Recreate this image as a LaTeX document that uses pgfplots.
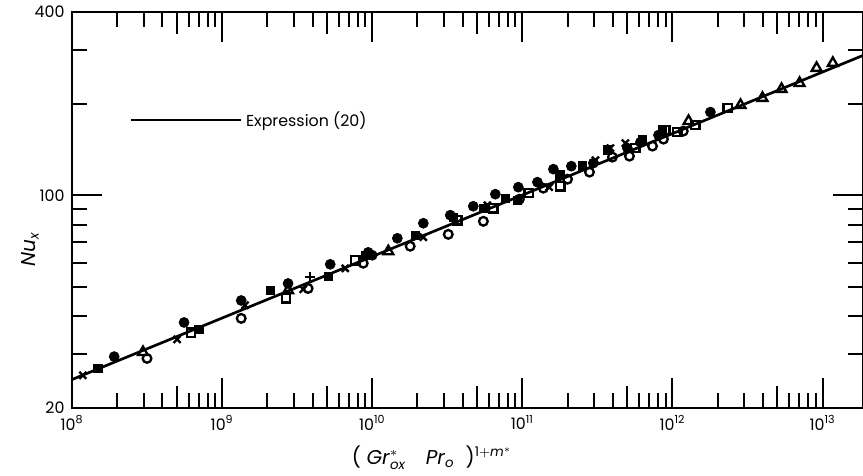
\documentclass[border=0pt]{standalone}
\usepackage{amsmath}
\usepackage{fontspec}
\setmainfont{Poppins}
\usepackage{pgfplots}
\pgfplotsset{compat=1.18}

\begin{document}
\begin{tikzpicture}[font=\fontsize{9.5}{11}\selectfont]
\begin{axis}[
    xmode=log, ymode=log,
    scale only axis,
    width=474.6pt, height=237.6pt,
    xmin=1e8, xmax=1.86e13,
    ymin=20, ymax=400,
    xtick={1e8,1e9,1e10,1e11,1e12,1e13},
    xticklabels={10\textsuperscript{8},10\textsuperscript{9},10\textsuperscript{10},10\textsuperscript{11},10\textsuperscript{12},10\textsuperscript{13}},
    minor xtick={2e8,3e8,4e8,5e8,6e8,7e8,8e8,9e8,
                 2e9,3e9,4e9,5e9,6e9,7e9,8e9,9e9,
                 2e10,3e10,4e10,5e10,6e10,7e10,8e10,9e10,
                 2e11,3e11,4e11,5e11,6e11,7e11,8e11,9e11,
                 2e12,3e12,4e12,5e12,6e12,7e12,8e12,9e12},
    extra x ticks={5e8,5e9,5e10,5e11,5e12},
    extra x tick labels={},
    extra x tick style={major tick length=13pt},
    ytick={20,100,400},
    yticklabels={20,100,400},
    minor ytick={30,40,50,60,70,80,90,200,300},
    tick align=inside,
    major tick length=18pt,
    minor tick length=9pt,
    every tick/.style={black, line width=1.2pt},
    axis line style={line width=1.3pt},
    xticklabel style={yshift=-1pt},
    yticklabel style={xshift=-1pt},
    xlabel={\textup{(}\;\textit{Gr}$^{*}_{\textit{ox}}$\quad\textit{Pr}$_{\textit{o}}$\;\;\textup{)}$^{\textup{1}+\textit{m}^{*}}$},
    xlabel style={at={(rel axis cs:0.455,-0.142)}, anchor=base, font=\fontsize{12}{14}\selectfont},
    ylabel={$\textit{Nu}_{\textit{x}}$},
    ylabel style={at={(rel axis cs:-0.053,0.4)}, anchor=center, font=\fontsize{12}{14}\selectfont},
    legend style={at={(rel axis cs:0.073,0.727)}, anchor=west, draw=none, fill=none,
                  inner xsep=0pt, legend cell align=left},
    legend image code/.code={\draw[line width=1.6pt] (0pt,0pt) -- (66pt,0pt);},
]
% Expression (20)
\addplot[black, line width=1.6pt, no markers] coordinates {
    (1e8,24.8) (1e10,62.9) (1e12,159.4) (1.86e13,288)
};
\addlegendentry{Expression (20)}

% filled circles
\addplot[only marks, mark=*, mark size=3pt, forget plot] coordinates {
    (1.91e8,29.5) (5.58e8,38.2) (1.34e9,45.1) (2.75e9,51.3) (5.25e9,59.3)
    (9.40e9,64.9) (1.00e10,63.5) (1.47e10,72.2) (2.19e10,80.9) (3.31e10,86.0)
    (4.71e10,92.0) (6.61e10,100.8) (9.40e10,106.3) (1.26e11,110.4) (1.61e11,121.8)
    (2.12e11,124.6) (2.97e11,127.5) (5.01e11,142.8) (6.12e11,149.4) (8.07e11,157.6)
    (1.79e12,187.6)
};
% filled squares
\addplot[only marks, mark=square*, mark size=2.6pt, forget plot] coordinates {
    (1.49e8,27.0) (7.03e8,36.3) (2.09e9,48.7) (5.09e9,54.2) (8.98e9,63.5)
    (1.94e10,73.9) (3.47e10,84.7) (5.50e10,90.6) (7.70e10,97.8) (9.26e10,96.3)
    (1.77e11,116.4) (2.51e11,124.6) (3.69e11,140.7) (6.31e11,151.7) (8.58e11,163.7)
};
% open circles
\addplot[only marks, mark=o, mark size=2.6pt, mark options={fill=white, line width=1.4pt}, forget plot] coordinates {
    (3.16e8,29.1) (1.34e9,39.4) (3.74e9,49.4) (8.71e9,59.8) (1.79e10,68.0)
    (3.21e10,74.4) (5.50e10,82.1) (9.55e10,97.0) (1.38e11,105.5) (2.00e11,112.9)
    (2.80e11,119.1) (3.98e11,133.4) (5.17e11,134.4) (7.36e11,145.0) (8.71e11,152.9)
    (1.18e12,162.4)
};
% open squares
\addplot[only marks, mark=square, mark size=2.5pt, mark options={fill=white, line width=1.4pt}, forget plot] coordinates {
    (6.21e8,35.4) (2.67e9,45.9) (7.70e9,61.1) (3.69e10,82.8) (6.41e10,90.6)
    (1.10e11,101.6) (1.79e11,107.1) (5.67e11,142.8) (8.98e11,163.7) (1.08e12,161.2)
    (1.42e12,170.0) (2.33e12,193.3)
};
% crosses
\addplot[only marks, mark=x, mark size=3pt, mark options={line width=1.4pt}, forget plot] coordinates {
    (1.18e8,25.6) (5.01e8,33.6) (1.42e9,43.5) (3.47e9,49.1) (6.61e9,57.5)
    (2.19e10,72.8) (5.85e10,92.7) (1.51e11,106.3) (3.07e11,130.4) (3.86e11,142.8)
    (4.86e11,148.3)
};
% open triangles
\addplot[only marks, mark=triangle, mark size=3.4pt, mark options={fill=white, line width=1.4pt}, forget plot] coordinates {
    (2.97e8,30.5) (2.75e9,48.7) (1.28e10,65.4) (1.28e12,175.2) (2.84e12,197.8)
    (3.98e12,208.6) (5.33e12,223.3) (7.03e12,233.6) (9.12e12,261.8) (1.17e13,271.9)
};
% plus
\addplot[only marks, mark=+, mark size=3pt, mark options={line width=1.4pt}, forget plot] coordinates {
    (3.86e9,53.8)
};
\end{axis}
\pgfresetboundingbox
\path[use as bounding box] ([xshift=-43.2pt,yshift=-40.8pt]current axis.south west) rectangle ([yshift=7.2pt]current axis.north east);
\end{tikzpicture}
\end{document}
